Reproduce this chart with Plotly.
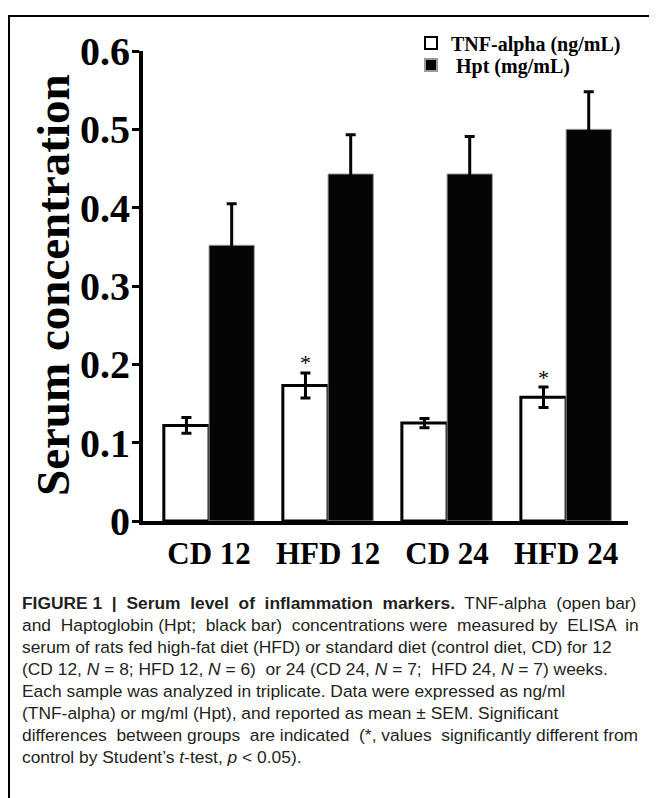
import plotly.graph_objects as go

# ---- data ----
groups = ["CD 12", "HFD 12", "CD 24", "HFD 24"]
tnf_values = [0.122, 0.173, 0.125, 0.158]
tnf_sem = [0.010, 0.016, 0.006, 0.013]
hpt_values = [0.352, 0.443, 0.443, 0.500]
hpt_sem = [0.053, 0.050, 0.048, 0.048]
significant = [False, True, False, True]
y_tickvals = [0, 0.1, 0.2, 0.3, 0.4, 0.5, 0.6]
y_ticktext = ["0", "0.1", "0.2", "0.3", "0.4", "0.5", "0.6"]

# caption lines (extra spaces emulate the justified typesetting of the original)
caption_lines = [
    "<b>FIGURE 1  |  Serum  level  of  inflammation  markers.</b>  TNF-alpha  (open bar)",
    "and  Haptoglobin (Hpt;  black bar)  concentrations were  measured by  ELISA  in",
    "serum of rats fed high-fat diet (HFD) or standard diet (control diet, CD) for 12",
    "(CD 12, <i>N</i> = 8; HFD 12, <i>N</i> = 6)  or 24 (CD 24, <i>N</i> = 7;  HFD 24, <i>N</i> = 7) weeks.",
    "Each sample was analyzed in triplicate. Data were expressed as ng/ml",
    "(TNF-alpha) or mg/ml (Hpt), and reported as mean \u00b1 SEM. Significant",
    "differences  between groups  are indicated  (*, values  significantly different from",
    "control by Student\u2019s <i>t</i>-test, <i>p</i> &lt; 0.05).",
]

# ---- layout geometry (figure coords; page adds an 8px body margin) ----
W, H = 649, 790
ML, MR, MT, MB = 135, 29, 43, 277
PW, PH = W - ML - MR, H - MT - MB
XR = [-0.555, 3.52]
BARGAP = 0.24

def px(x):
    return (x - ML) / PW

def py(y):
    return (H - MB - y) / PH

SERIF = "Liberation Serif"
SANS = "Liberation Sans"
BLACK_BAR = "#050505"

fig = go.Figure()
fig.add_trace(go.Bar(
    name="TNF-alpha (ng/mL)", x=groups, y=tnf_values, legend="legend",
    marker=dict(color="white", line=dict(color="black", width=3)),
    error_y=dict(type="data", array=tnf_sem, color="black", thickness=3, width=5),
))
fig.add_trace(go.Bar(
    name="\u00a0Hpt (mg/mL)", x=groups, y=hpt_values, legend="legend2",
    marker=dict(color=BLACK_BAR, line=dict(color="#9a9a9a", width=1)),
    error_y=dict(type="data", array=hpt_sem, color=BLACK_BAR, thickness=3, width=5),
))

# asterisks above significant TNF bars
shift = -(1 - BARGAP) / 4 * PW / (XR[1] - XR[0])
annotations = []
for g, v, e, s in zip(groups, tnf_values, tnf_sem, significant):
    if s:
        annotations.append(dict(
            x=g, y=v + e, xref="x", yref="y", text="*", showarrow=False,
            xshift=shift, yshift=10, font=dict(family=SERIF, size=22, color="black"),
        ))

# y axis title as annotation
annotations.append(dict(
    x=px(45), y=py(277), xref="paper", yref="paper", text="<b>Serum concentration</b>",
    textangle=-90, showarrow=False, xanchor="center", yanchor="middle",
    font=dict(family=SERIF, size=47, color="black"),
))

# caption
cap_y0, cap_dy = 595, 22
for i, line in enumerate(caption_lines):
    annotations.append(dict(
        x=px(12), y=py(cap_y0 + i * cap_dy), xref="paper", yref="paper", text=line,
        showarrow=False, xanchor="left", yanchor="middle", align="left",
        font=dict(family=SANS, size=17.4, color="#231f20"),
    ))

legend_style = dict(xanchor="left", yanchor="middle",
                    font=dict(family=SERIF, size=20, color="black", weight="bold"),
                    bgcolor="rgba(0,0,0,0)", itemsizing="constant")

fig.update_layout(
    width=W, height=H, margin=dict(l=ML, r=MR, t=MT, b=MB),
    paper_bgcolor="white", plot_bgcolor="white",
    barmode="group", bargap=BARGAP, bargroupgap=0,
    showlegend=True,
    legend=dict(x=px(403), y=py(35), **legend_style),
    legend2=dict(x=px(403), y=py(57), **legend_style),
    annotations=annotations,
    shapes=[dict(type="rect", xref="paper", yref="paper",
                 x0=px(1), y0=py(850), x1=px(720), y1=py(8),
                 line=dict(color="black", width=2), fillcolor="rgba(0,0,0,0)", layer="below")],
)
fig.update_xaxes(
    range=XR, showline=True, linewidth=4, linecolor="black", ticks="",
    showgrid=False, zeroline=False, ticklabelstandoff=2,
    tickfont=dict(family=SERIF, size=31, color="black", weight="bold"),
)
fig.update_yaxes(
    range=[0, 0.6], tickvals=y_tickvals, ticktext=y_ticktext,
    showline=True, linewidth=4, linecolor="black", ticks="outside", ticklen=7,
    tickwidth=3, tickcolor="black", showgrid=False, zeroline=False,
    ticklabelstandoff=-6,
    tickfont=dict(family=SERIF, size=40, color="black", weight="bold"),
)

fig.write_html("out.html")
